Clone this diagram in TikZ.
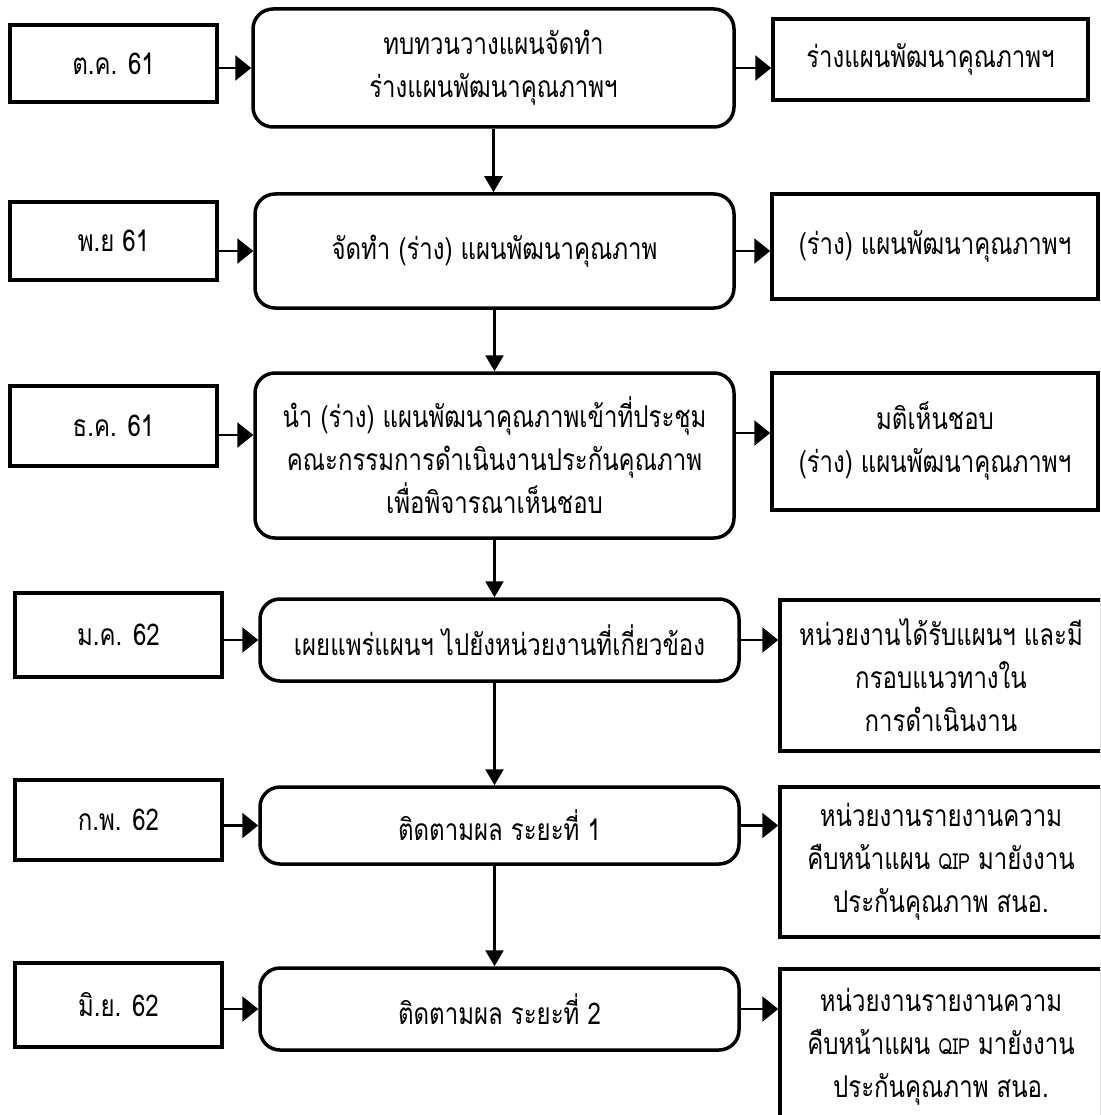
\documentclass[tikz,border=0pt]{standalone}
\usepackage{fontspec}
\newfontfamily\thai[Script=Thai, FakeStretch=0.8]{Loma}
\usetikzlibrary{arrows.meta}
\tikzset{
  base/.style={draw=black, line width=3.5pt, fill=white, inner sep=0pt, align=center,
    font=\thai\fontsize{30}{43}\selectfont},
  lbox/.style={base, rectangle},
  cbox/.style={base, rectangle, rounded corners=20pt},
  rbox/.style={base, rectangle},
  harr/.style={line width=2.5pt, -{Triangle[length=16pt, width=25pt]}},
  varr/.style={line width=2.5pt, -{Triangle[length=16pt, width=18pt]}},
}
\newcommand{\qip}{{\fontsize{22}{43}\selectfont QIP}}
\begin{document}
\begin{tikzpicture}[x=1pt, y=-1pt]
\useasboundingbox (0,0) rectangle (1100,1115);
\clip (0,0) rectangle (1100,1115);
% row 1
\node[lbox, minimum width=207pt, minimum height=77pt] (L1) at (113.5,63.5) {ต.ค. 61};
\node[cbox, minimum width=481pt, minimum height=118pt] (C1) at (493.5,68) {ทบทวนวางแผนจัดทำ\\ร่างแผนพัฒนาคุณภาพฯ};
\node[rbox, minimum width=315pt, minimum height=81pt] (R1) at (930.5,59.5) {ร่างแผนพัฒนาคุณภาพฯ};
% row 2
\node[lbox, minimum width=207pt, minimum height=78pt] (L2) at (113.5,241) {พ.ย 61};
\node[cbox, minimum width=479pt, minimum height=114pt] (C2) at (494.5,251) {จัดทำ (ร่าง) แผนพัฒนาคุณภาพ};
\node[rbox, minimum width=326pt, minimum height=105pt] (R2) at (935,246.5) {(ร่าง) แผนพัฒนาคุณภาพฯ};
% row 3
\node[lbox, minimum width=207pt, minimum height=80pt] (L3) at (113.5,426) {ธ.ค. 61};
\node[cbox, minimum width=479pt, minimum height=165pt] (C3) at (494.5,455.5) {นำ (ร่าง) แผนพัฒนาคุณภาพเข้าที่ประชุม\\คณะกรรมการดำเนินงานประกันคุณภาพ\\เพื่อพิจารณาเห็นชอบ};
\node[rbox, minimum width=326pt, minimum height=137pt] (R3) at (935,441.5) {มติเห็นชอบ\\(ร่าง) แผนพัฒนาคุณภาพฯ};
% row 4
\node[lbox, minimum width=207pt, minimum height=84pt] (L4) at (118.5,635) {ม.ค. 62};
\node[cbox, minimum width=479pt, minimum height=82pt] (C4) at (499.5,640) {เผยแพร่แผนฯ ไปยังหน่วยงานที่เกี่ยวข้อง};
\node[rbox, minimum width=322pt, minimum height=151pt] (R4) at (941,675.5) {หน่วยงานได้รับแผนฯ และมี\\กรอบแนวทางใน\\การดำเนินงาน};
% row 5
\node[lbox, minimum width=207pt, minimum height=80pt] (L5) at (118.5,820) {ก.พ. 62};
\node[cbox, minimum width=479pt, minimum height=77pt] (C5) at (499.5,825.5) {ติดตามผล ระยะที่ 1};
\node[rbox, minimum width=322pt, minimum height=150pt] (R5) at (941,862) {หน่วยงานรายงานความ\\คืบหน้าแผน \qip{} มายังงาน\\ประกันคุณภาพ สนอ.};
% row 6
\node[lbox, minimum width=207pt, minimum height=84pt] (L6) at (118.5,1005) {มิ.ย. 62};
\node[cbox, minimum width=479pt, minimum height=82pt] (C6) at (499.5,1009) {ติดตามผล ระยะที่ 2};
\node[rbox, minimum width=322pt, minimum height=156pt] (R6) at (941,1047) {หน่วยงานรายงานความ\\คืบหน้าแผน \qip{} มายังงาน\\ประกันคุณภาพ สนอ.};
% horizontal connectors
\draw[harr] (L1.east |- C1.west) -- (C1.west);
\draw[harr] (C1.east) -- (R1.west |- C1.east);
\draw[harr] (L2.east |- C2.west) -- (C2.west);
\draw[harr] (C2.east) -- (R2.west |- C2.east);
\draw[harr] (L3.east |- 0,435) -- (C3.west |- 0,435);
\draw[harr] (C3.east |- 0,433) -- (R3.west |- 0,433);
\draw[harr] (L4.east |- C4.west) -- (C4.west);
\draw[harr] (C4.east) -- (R4.west |- C4.east);
\draw[harr] (L5.east |- C5.west) -- (C5.west);
\draw[harr] (C5.east) -- (R5.west |- C5.east);
\draw[harr] (L6.east |- C6.west) -- (C6.west);
\draw[harr] (C6.east) -- (R6.west |- C6.east);
% vertical connectors
\draw[varr] (C1.south) -- (C1.south |- C2.north);
\draw[varr] (C2.south) -- (C2.south |- C3.north);
\draw[varr] (C3.south) -- (C3.south |- C4.north);
\draw[varr] (C3.south |- C4.south) -- (C3.south |- C5.north);
\draw[varr] (C3.south |- C5.south) -- (C3.south |- C6.north);
\end{tikzpicture}
\end{document}
